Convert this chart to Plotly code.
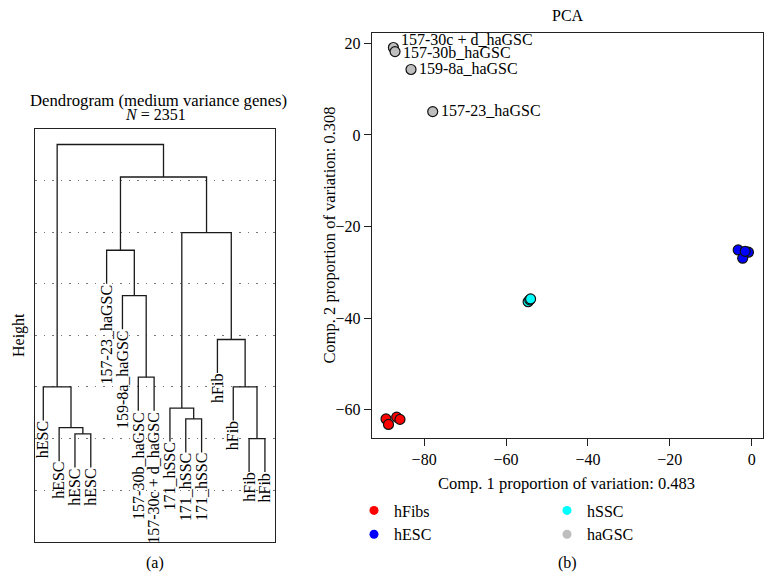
import plotly.graph_objects as go

FONT = "Liberation Serif"
OFF = 8            # page body margin of the browser
W, H = 758, 566    # figure size so that figure + body margin fills the 774x582 window

# ---------------- Dendrogram data ----------------
leaf_labels = ["hESC", "hESC", "hESC", "hESC",
               "157-23_haGSC", "159-8a_haGSC", "157-30b_haGSC", "157-30c + d_haGSC",
               "171_hSSC", "171_hSSC", "171_hSSC",
               "hFib", "hFib", "hFib", "hFib"]
# R-style hclust merge matrix: negative = leaf (1-based), positive = earlier merge step
merge_left = [-3, -2, -1, -7, -6, -5, -10, -9, -14, -13, -12, 8, 6, 3]
merge_right = [-4, 1, 2, -8, 4, 5, -11, 7, -15, 9, 10, 11, 12, 13]
merge_height = [20.9, 22.1, 30.0, 31.9, 47.7, 56.5, 23.8, 25.9, 20.0, 30.0, 39.2, 59.9, 70.7, 77.0]
hang = 6.5
height_grid = [10, 20, 30, 40, 50, 60, 70]

# ---------------- PCA data ----------------
group_names = ["hFibs", "hESC", "hSSC", "haGSC"]
group_colors = ["#FF0000", "#0000FF", "#00FFFF", "#BEBEBE"]
hfib_pc1 = [-89.3, -88.7, -86.7, -85.9]
hfib_pc2 = [-62.0, -63.2, -61.6, -62.1]
hesc_pc1 = [-3.3, -0.8, -2.2, -1.6]
hesc_pc2 = [-25.1, -25.6, -26.9, -25.4]
hssc_pc1 = [-54.6, -54.2, -54.0]
hssc_pc2 = [-36.4, -36.0, -35.8]
hagsc_pc1 = [-87.5, -87.1, -83.2, -77.9]
hagsc_pc2 = [19.1, 18.2, 14.3, 5.1]
hagsc_names = ["157-30c + d_haGSC", "157-30b_haGSC", "159-8a_haGSC", "157-23_haGSC"]
label_yshift = [8, -1, 1, 1]
x_ticks = [-80, -60, -40, -20, 0]
y_ticks = [-60, -40, -20, 0, 20]


def fx(px):
    return (px - OFF) / W


def fy(py):
    return 1 - (py - OFF) / H


fig = go.Figure()

# ---- build dendrogram segments ----
node_x, node_h, leaf_bottom = {}, {}, {}
xs, ys = [], []
for i, (l, r, h) in enumerate(zip(merge_left, merge_right, merge_height), start=1):
    pts = []
    for c in (l, r):
        if c < 0:
            cx, cy = -c, h - hang
            leaf_bottom[-c] = cy
        else:
            cx, cy = node_x[c], node_h[c]
        pts.append((cx, cy))
    (xl, yl), (xr, yr) = pts
    xs += [xl, xl, xr, xr, None]
    ys += [yl, h, h, yr, None]
    node_x[i] = (xl + xr) / 2
    node_h[i] = h

fig.add_trace(go.Scatter(x=xs, y=ys, mode="lines", line=dict(color="#1a1a1a", width=1.3),
                         xaxis="x", yaxis="y", showlegend=False, hoverinfo="skip"))

annotations = []
for k, lab in enumerate(leaf_labels, start=1):
    annotations.append(dict(x=k, y=leaf_bottom[k], xref="x", yref="y", text=lab,
                            textangle=-90, showarrow=False, xanchor="center", yanchor="top",
                            yshift=1, font=dict(family=FONT, size=16, color="black")))

# ---- PCA points ----
pc1_all = [hfib_pc1, hesc_pc1, hssc_pc1, hagsc_pc1]
pc2_all = [hfib_pc2, hesc_pc2, hssc_pc2, hagsc_pc2]
for name, col, px, py in zip(group_names, group_colors, pc1_all, pc2_all):
    fig.add_trace(go.Scatter(x=px, y=py, mode="markers", xaxis="x2", yaxis="y2",
                             marker=dict(size=10, color=col, line=dict(color="#111111", width=1.2)),
                             name=name, showlegend=False))

# legend entries (filled dots, no outline): column 1 hFibs, hESC ; column 2 hSSC, haGSC
legend_of = {"hFibs": "legend", "hESC": "legend", "hSSC": "legend2", "haGSC": "legend2"}
for name, col in zip(group_names, group_colors):
    fig.add_trace(go.Scatter(x=[None], y=[None], mode="markers", xaxis="x2", yaxis="y2",
                             marker=dict(size=9, color=col), name=name,
                             legend=legend_of[name], showlegend=True))

for name, px, py, ys_ in zip(hagsc_names, hagsc_pc1, hagsc_pc2, label_yshift):
    annotations.append(dict(x=px, y=py, xref="x2", yref="y2", text=name, showarrow=False,
                            xanchor="left", yanchor="middle", xshift=6, yshift=ys_,
                            font=dict(family=FONT, size=16, color="black")))


def txt(px, py, text, size=16, angle=0):
    annotations.append(dict(x=fx(px), y=fy(py), xref="paper", yref="paper", text=text,
                            showarrow=False, xanchor="center", yanchor="middle", textangle=angle,
                            font=dict(family=FONT, size=size, color="black")))


txt(158, 100, "Dendrogram (medium variance genes)", size=16.7)
txt(155, 114.5, "<i>N</i> = 2351", size=16)
txt(19, 335, "Height", angle=-90)
# PCA title sits at the very top of the page
annotations.append(dict(x=fx(567.5), y=1, xref="paper", yref="paper", text="PCA",
                        showarrow=False, xanchor="center", yanchor="top", yshift=3,
                        font=dict(family=FONT, size=16, color="black")))
txt(566.7, 483.5, "Comp. 1 proportion of variation: 0.483", size=16.5)
txt(329, 235.5, "Comp. 2 proportion of variation: 0.308", size=16.5, angle=-90)
txt(155, 563, "(a)")
txt(567, 563, "(b)")

axis_common = dict(showline=True, linecolor="#222222", linewidth=1, mirror=True, zeroline=False)
legend_common = dict(orientation="v", xanchor="left", yanchor="top", tracegroupgap=0,
                     font=dict(family=FONT, size=16, color="black"),
                     bgcolor="rgba(0,0,0,0)", borderwidth=0, itemclick=False)

fig.update_layout(
    width=W, height=H,
    margin=dict(l=0, r=0, t=0, b=0, pad=0, autoexpand=False),
    paper_bgcolor="white", plot_bgcolor="white",
    font=dict(family=FONT, size=15, color="black"),
    xaxis=dict(domain=[fx(35), fx(275)], range=[0.476, 15.637], showgrid=False,
               showticklabels=False, ticks="", **axis_common),
    yaxis=dict(domain=[fy(541.7), fy(129)], range=[0, 80], showgrid=True,
               tickvals=height_grid, gridcolor="#777777", griddash="1.5px,7px", gridwidth=1.2,
               showticklabels=False, ticks="", **axis_common),
    xaxis2=dict(domain=[fx(371.7), fx(763.3)], range=[-92.8, 2.83], showgrid=False,
                tickvals=x_ticks, ticks="outside", ticklen=7, tickcolor="#222222",
                tickfont=dict(family=FONT, size=16), anchor="y2", **axis_common),
    yaxis2=dict(domain=[fy(437.7), fy(33.3)], range=[-66.1, 22.2], showgrid=False,
                tickvals=y_ticks, ticks="outside", ticklen=7, tickcolor="#222222",
                tickfont=dict(family=FONT, size=16), anchor="x2", **axis_common),
    legend=dict(x=fx(354), y=fy(493.5), **legend_common),
    legend2=dict(x=fx(547), y=fy(493.5), **legend_common),
    annotations=annotations,
)

fig.write_html("out.html")
